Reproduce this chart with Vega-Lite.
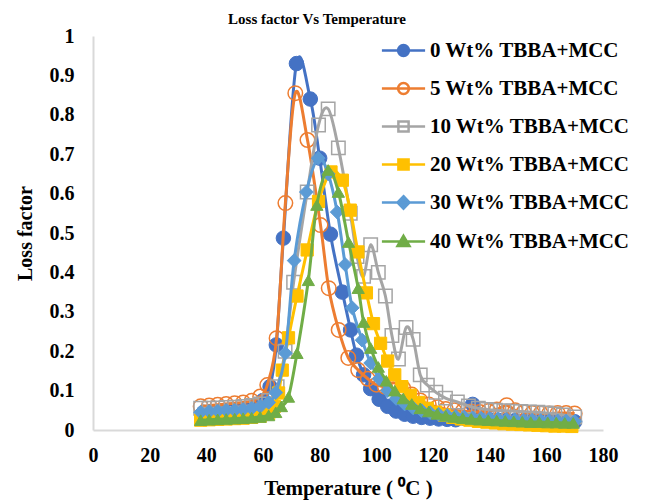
{
"$schema":"https://vega.github.io/schema/vega-lite/v6.json",
"width":510,"height":394,
"autosize":"none",
"padding":{"left":93,"top":36,"right":47,"bottom":72},
"background":"white",
"config":{"view":{"stroke":null},"font":"Liberation Serif"},
"title":{"text":"Loss factor Vs Temperature","font":"Liberation Serif","fontSize":15,"fontWeight":"bold","color":"black","anchor":"middle","dx":-31,"offset":-1},
"data":{"values":[
{"s":"0 Wt% TBBA+MCC","t":39,"v":0.045},{"s":"0 Wt% TBBA+MCC","t":42,"v":0.046},{"s":"0 Wt% TBBA+MCC","t":45,"v":0.048},{"s":"0 Wt% TBBA+MCC","t":48,"v":0.05},{"s":"0 Wt% TBBA+MCC","t":51,"v":0.052},{"s":"0 Wt% TBBA+MCC","t":54,"v":0.055},{"s":"0 Wt% TBBA+MCC","t":57,"v":0.06},{"s":"0 Wt% TBBA+MCC","t":60,"v":0.075},{"s":"0 Wt% TBBA+MCC","t":62.5,"v":0.11},{"s":"0 Wt% TBBA+MCC","t":64.7,"v":0.216},{"s":"0 Wt% TBBA+MCC","t":67.2,"v":0.487},{"s":"0 Wt% TBBA+MCC","t":71.8,"v":0.93},{"s":"0 Wt% TBBA+MCC","t":76.7,"v":0.84},{"s":"0 Wt% TBBA+MCC","t":80,"v":0.69},{"s":"0 Wt% TBBA+MCC","t":83.8,"v":0.497},{"s":"0 Wt% TBBA+MCC","t":88,"v":0.35},{"s":"0 Wt% TBBA+MCC","t":90.9,"v":0.254},{"s":"0 Wt% TBBA+MCC","t":93,"v":0.19},{"s":"0 Wt% TBBA+MCC","t":95.5,"v":0.14},{"s":"0 Wt% TBBA+MCC","t":98,"v":0.105},{"s":"0 Wt% TBBA+MCC","t":101,"v":0.078},{"s":"0 Wt% TBBA+MCC","t":104,"v":0.06},{"s":"0 Wt% TBBA+MCC","t":107,"v":0.048},{"s":"0 Wt% TBBA+MCC","t":110,"v":0.04},{"s":"0 Wt% TBBA+MCC","t":113,"v":0.035},{"s":"0 Wt% TBBA+MCC","t":116,"v":0.032},{"s":"0 Wt% TBBA+MCC","t":119,"v":0.03},{"s":"0 Wt% TBBA+MCC","t":122,"v":0.028},{"s":"0 Wt% TBBA+MCC","t":125,"v":0.027},{"s":"0 Wt% TBBA+MCC","t":128,"v":0.026},{"s":"0 Wt% TBBA+MCC","t":131,"v":0.03},{"s":"0 Wt% TBBA+MCC","t":134,"v":0.065},{"s":"0 Wt% TBBA+MCC","t":137,"v":0.03},{"s":"0 Wt% TBBA+MCC","t":140,"v":0.026},{"s":"0 Wt% TBBA+MCC","t":143,"v":0.025},{"s":"0 Wt% TBBA+MCC","t":146,"v":0.024},{"s":"0 Wt% TBBA+MCC","t":149,"v":0.024},{"s":"0 Wt% TBBA+MCC","t":152,"v":0.023},{"s":"0 Wt% TBBA+MCC","t":155,"v":0.023},{"s":"0 Wt% TBBA+MCC","t":158,"v":0.022},{"s":"0 Wt% TBBA+MCC","t":161,"v":0.022},{"s":"0 Wt% TBBA+MCC","t":164,"v":0.022},{"s":"0 Wt% TBBA+MCC","t":167,"v":0.021},{"s":"0 Wt% TBBA+MCC","t":170,"v":0.021},
{"s":"5 Wt% TBBA+MCC","t":38,"v":0.06},{"s":"5 Wt% TBBA+MCC","t":41,"v":0.062},{"s":"5 Wt% TBBA+MCC","t":44,"v":0.064},{"s":"5 Wt% TBBA+MCC","t":47,"v":0.066},{"s":"5 Wt% TBBA+MCC","t":50,"v":0.068},{"s":"5 Wt% TBBA+MCC","t":53,"v":0.07},{"s":"5 Wt% TBBA+MCC","t":56,"v":0.074},{"s":"5 Wt% TBBA+MCC","t":59,"v":0.085},{"s":"5 Wt% TBBA+MCC","t":61.5,"v":0.114},{"s":"5 Wt% TBBA+MCC","t":64.8,"v":0.233},{"s":"5 Wt% TBBA+MCC","t":67.9,"v":0.576},{"s":"5 Wt% TBBA+MCC","t":71.4,"v":0.855},{"s":"5 Wt% TBBA+MCC","t":75.7,"v":0.736},{"s":"5 Wt% TBBA+MCC","t":80.3,"v":0.52},{"s":"5 Wt% TBBA+MCC","t":83.2,"v":0.36},{"s":"5 Wt% TBBA+MCC","t":86.7,"v":0.254},{"s":"5 Wt% TBBA+MCC","t":90.1,"v":0.183},{"s":"5 Wt% TBBA+MCC","t":93.6,"v":0.152},{"s":"5 Wt% TBBA+MCC","t":97,"v":0.13},{"s":"5 Wt% TBBA+MCC","t":100,"v":0.115},{"s":"5 Wt% TBBA+MCC","t":103,"v":0.11},{"s":"5 Wt% TBBA+MCC","t":106,"v":0.12},{"s":"5 Wt% TBBA+MCC","t":109.5,"v":0.106},{"s":"5 Wt% TBBA+MCC","t":112.5,"v":0.09},{"s":"5 Wt% TBBA+MCC","t":115.5,"v":0.075},{"s":"5 Wt% TBBA+MCC","t":118.5,"v":0.065},{"s":"5 Wt% TBBA+MCC","t":121.5,"v":0.058},{"s":"5 Wt% TBBA+MCC","t":124.5,"v":0.053},{"s":"5 Wt% TBBA+MCC","t":127.5,"v":0.05},{"s":"5 Wt% TBBA+MCC","t":130.5,"v":0.048},{"s":"5 Wt% TBBA+MCC","t":133.5,"v":0.047},{"s":"5 Wt% TBBA+MCC","t":136.5,"v":0.046},{"s":"5 Wt% TBBA+MCC","t":139.5,"v":0.048},{"s":"5 Wt% TBBA+MCC","t":142.5,"v":0.052},{"s":"5 Wt% TBBA+MCC","t":146,"v":0.063},{"s":"5 Wt% TBBA+MCC","t":149,"v":0.05},{"s":"5 Wt% TBBA+MCC","t":152,"v":0.045},{"s":"5 Wt% TBBA+MCC","t":155,"v":0.043},{"s":"5 Wt% TBBA+MCC","t":158,"v":0.042},{"s":"5 Wt% TBBA+MCC","t":161,"v":0.042},{"s":"5 Wt% TBBA+MCC","t":164,"v":0.043},{"s":"5 Wt% TBBA+MCC","t":167,"v":0.043},{"s":"5 Wt% TBBA+MCC","t":170,"v":0.042},
{"s":"10 Wt% TBBA+MCC","t":38,"v":0.055},{"s":"10 Wt% TBBA+MCC","t":41,"v":0.055},{"s":"10 Wt% TBBA+MCC","t":44,"v":0.056},{"s":"10 Wt% TBBA+MCC","t":47,"v":0.057},{"s":"10 Wt% TBBA+MCC","t":50,"v":0.058},{"s":"10 Wt% TBBA+MCC","t":53,"v":0.06},{"s":"10 Wt% TBBA+MCC","t":56,"v":0.062},{"s":"10 Wt% TBBA+MCC","t":59,"v":0.066},{"s":"10 Wt% TBBA+MCC","t":62,"v":0.075},{"s":"10 Wt% TBBA+MCC","t":65,"v":0.11},{"s":"10 Wt% TBBA+MCC","t":67.8,"v":0.2},{"s":"10 Wt% TBBA+MCC","t":70.8,"v":0.375},{"s":"10 Wt% TBBA+MCC","t":75.6,"v":0.604},{"s":"10 Wt% TBBA+MCC","t":79.6,"v":0.774},{"s":"10 Wt% TBBA+MCC","t":83,"v":0.815},{"s":"10 Wt% TBBA+MCC","t":86.6,"v":0.716},{"s":"10 Wt% TBBA+MCC","t":90.8,"v":0.55},{"s":"10 Wt% TBBA+MCC","t":93.2,"v":0.44},{"s":"10 Wt% TBBA+MCC","t":95.5,"v":0.39},{"s":"10 Wt% TBBA+MCC","t":98,"v":0.47},{"s":"10 Wt% TBBA+MCC","t":100.7,"v":0.4},{"s":"10 Wt% TBBA+MCC","t":103.2,"v":0.34},{"s":"10 Wt% TBBA+MCC","t":105.5,"v":0.24},{"s":"10 Wt% TBBA+MCC","t":107.8,"v":0.18},{"s":"10 Wt% TBBA+MCC","t":110.5,"v":0.26},{"s":"10 Wt% TBBA+MCC","t":113,"v":0.23},{"s":"10 Wt% TBBA+MCC","t":115.5,"v":0.14},{"s":"10 Wt% TBBA+MCC","t":118,"v":0.114},{"s":"10 Wt% TBBA+MCC","t":121,"v":0.096},{"s":"10 Wt% TBBA+MCC","t":124.4,"v":0.081},{"s":"10 Wt% TBBA+MCC","t":128.6,"v":0.071},{"s":"10 Wt% TBBA+MCC","t":132.5,"v":0.061},{"s":"10 Wt% TBBA+MCC","t":136,"v":0.055},{"s":"10 Wt% TBBA+MCC","t":139,"v":0.052},{"s":"10 Wt% TBBA+MCC","t":142,"v":0.05},{"s":"10 Wt% TBBA+MCC","t":145,"v":0.049},{"s":"10 Wt% TBBA+MCC","t":148,"v":0.048},{"s":"10 Wt% TBBA+MCC","t":151,"v":0.047},{"s":"10 Wt% TBBA+MCC","t":154,"v":0.046},{"s":"10 Wt% TBBA+MCC","t":157,"v":0.045},{"s":"10 Wt% TBBA+MCC","t":160,"v":0.043},{"s":"10 Wt% TBBA+MCC","t":163,"v":0.041},{"s":"10 Wt% TBBA+MCC","t":166,"v":0.038},{"s":"10 Wt% TBBA+MCC","t":170,"v":0.033},
{"s":"20 Wt% TBBA+MCC","t":38,"v":0.025},{"s":"20 Wt% TBBA+MCC","t":41,"v":0.026},{"s":"20 Wt% TBBA+MCC","t":44,"v":0.027},{"s":"20 Wt% TBBA+MCC","t":47,"v":0.028},{"s":"20 Wt% TBBA+MCC","t":50,"v":0.029},{"s":"20 Wt% TBBA+MCC","t":53,"v":0.03},{"s":"20 Wt% TBBA+MCC","t":56,"v":0.032},{"s":"20 Wt% TBBA+MCC","t":59,"v":0.035},{"s":"20 Wt% TBBA+MCC","t":62,"v":0.042},{"s":"20 Wt% TBBA+MCC","t":64,"v":0.06},{"s":"20 Wt% TBBA+MCC","t":65.5,"v":0.094},{"s":"20 Wt% TBBA+MCC","t":66.8,"v":0.152},{"s":"20 Wt% TBBA+MCC","t":69,"v":0.234},{"s":"20 Wt% TBBA+MCC","t":72,"v":0.34},{"s":"20 Wt% TBBA+MCC","t":75.6,"v":0.457},{"s":"20 Wt% TBBA+MCC","t":79.6,"v":0.58},{"s":"20 Wt% TBBA+MCC","t":84,"v":0.655},{"s":"20 Wt% TBBA+MCC","t":88,"v":0.634},{"s":"20 Wt% TBBA+MCC","t":90.8,"v":0.558},{"s":"20 Wt% TBBA+MCC","t":93.5,"v":0.452},{"s":"20 Wt% TBBA+MCC","t":96.5,"v":0.348},{"s":"20 Wt% TBBA+MCC","t":99,"v":0.27},{"s":"20 Wt% TBBA+MCC","t":101.5,"v":0.22},{"s":"20 Wt% TBBA+MCC","t":104,"v":0.175},{"s":"20 Wt% TBBA+MCC","t":106.5,"v":0.14},{"s":"20 Wt% TBBA+MCC","t":109,"v":0.11},{"s":"20 Wt% TBBA+MCC","t":112,"v":0.088},{"s":"20 Wt% TBBA+MCC","t":115,"v":0.07},{"s":"20 Wt% TBBA+MCC","t":118,"v":0.055},{"s":"20 Wt% TBBA+MCC","t":121,"v":0.045},{"s":"20 Wt% TBBA+MCC","t":124,"v":0.038},{"s":"20 Wt% TBBA+MCC","t":127,"v":0.032},{"s":"20 Wt% TBBA+MCC","t":130,"v":0.028},{"s":"20 Wt% TBBA+MCC","t":133,"v":0.025},{"s":"20 Wt% TBBA+MCC","t":136,"v":0.022},{"s":"20 Wt% TBBA+MCC","t":139,"v":0.02},{"s":"20 Wt% TBBA+MCC","t":142,"v":0.018},{"s":"20 Wt% TBBA+MCC","t":145,"v":0.016},{"s":"20 Wt% TBBA+MCC","t":148,"v":0.015},{"s":"20 Wt% TBBA+MCC","t":151,"v":0.014},{"s":"20 Wt% TBBA+MCC","t":154,"v":0.013},{"s":"20 Wt% TBBA+MCC","t":157,"v":0.012},{"s":"20 Wt% TBBA+MCC","t":160,"v":0.011},{"s":"20 Wt% TBBA+MCC","t":163,"v":0.01},{"s":"20 Wt% TBBA+MCC","t":166,"v":0.01},{"s":"20 Wt% TBBA+MCC","t":169,"v":0.009},
{"s":"30 Wt% TBBA+MCC","t":38,"v":0.045},{"s":"30 Wt% TBBA+MCC","t":41,"v":0.047},{"s":"30 Wt% TBBA+MCC","t":44,"v":0.048},{"s":"30 Wt% TBBA+MCC","t":47,"v":0.05},{"s":"30 Wt% TBBA+MCC","t":50,"v":0.05},{"s":"30 Wt% TBBA+MCC","t":53,"v":0.052},{"s":"30 Wt% TBBA+MCC","t":56,"v":0.055},{"s":"30 Wt% TBBA+MCC","t":59,"v":0.06},{"s":"30 Wt% TBBA+MCC","t":62,"v":0.07},{"s":"30 Wt% TBBA+MCC","t":64.5,"v":0.095},{"s":"30 Wt% TBBA+MCC","t":67.9,"v":0.195},{"s":"30 Wt% TBBA+MCC","t":71,"v":0.43},{"s":"30 Wt% TBBA+MCC","t":75.3,"v":0.604},{"s":"30 Wt% TBBA+MCC","t":79.5,"v":0.69},{"s":"30 Wt% TBBA+MCC","t":83,"v":0.65},{"s":"30 Wt% TBBA+MCC","t":86.2,"v":0.553},{"s":"30 Wt% TBBA+MCC","t":89,"v":0.42},{"s":"30 Wt% TBBA+MCC","t":91.5,"v":0.31},{"s":"30 Wt% TBBA+MCC","t":95,"v":0.228},{"s":"30 Wt% TBBA+MCC","t":98,"v":0.17},{"s":"30 Wt% TBBA+MCC","t":101,"v":0.13},{"s":"30 Wt% TBBA+MCC","t":104,"v":0.1},{"s":"30 Wt% TBBA+MCC","t":107,"v":0.08},{"s":"30 Wt% TBBA+MCC","t":110,"v":0.066},{"s":"30 Wt% TBBA+MCC","t":113,"v":0.056},{"s":"30 Wt% TBBA+MCC","t":116,"v":0.049},{"s":"30 Wt% TBBA+MCC","t":119,"v":0.044},{"s":"30 Wt% TBBA+MCC","t":122,"v":0.04},{"s":"30 Wt% TBBA+MCC","t":125,"v":0.037},{"s":"30 Wt% TBBA+MCC","t":128,"v":0.035},{"s":"30 Wt% TBBA+MCC","t":131,"v":0.033},{"s":"30 Wt% TBBA+MCC","t":134,"v":0.031},{"s":"30 Wt% TBBA+MCC","t":137,"v":0.03},{"s":"30 Wt% TBBA+MCC","t":140,"v":0.029},{"s":"30 Wt% TBBA+MCC","t":143,"v":0.028},{"s":"30 Wt% TBBA+MCC","t":146,"v":0.027},{"s":"30 Wt% TBBA+MCC","t":149,"v":0.026},{"s":"30 Wt% TBBA+MCC","t":152,"v":0.025},{"s":"30 Wt% TBBA+MCC","t":155,"v":0.025},{"s":"30 Wt% TBBA+MCC","t":158,"v":0.024},{"s":"30 Wt% TBBA+MCC","t":161,"v":0.024},{"s":"30 Wt% TBBA+MCC","t":164,"v":0.023},{"s":"30 Wt% TBBA+MCC","t":167,"v":0.023},{"s":"30 Wt% TBBA+MCC","t":170,"v":0.022},
{"s":"40 Wt% TBBA+MCC","t":38,"v":0.025},{"s":"40 Wt% TBBA+MCC","t":41,"v":0.026},{"s":"40 Wt% TBBA+MCC","t":44,"v":0.027},{"s":"40 Wt% TBBA+MCC","t":47,"v":0.028},{"s":"40 Wt% TBBA+MCC","t":50,"v":0.029},{"s":"40 Wt% TBBA+MCC","t":53,"v":0.03},{"s":"40 Wt% TBBA+MCC","t":56,"v":0.031},{"s":"40 Wt% TBBA+MCC","t":59,"v":0.033},{"s":"40 Wt% TBBA+MCC","t":62,"v":0.037},{"s":"40 Wt% TBBA+MCC","t":64.5,"v":0.045},{"s":"40 Wt% TBBA+MCC","t":66.5,"v":0.06},{"s":"40 Wt% TBBA+MCC","t":69,"v":0.084},{"s":"40 Wt% TBBA+MCC","t":72,"v":0.195},{"s":"40 Wt% TBBA+MCC","t":76,"v":0.38},{"s":"40 Wt% TBBA+MCC","t":79,"v":0.571},{"s":"40 Wt% TBBA+MCC","t":83,"v":0.66},{"s":"40 Wt% TBBA+MCC","t":86.6,"v":0.604},{"s":"40 Wt% TBBA+MCC","t":90.2,"v":0.477},{"s":"40 Wt% TBBA+MCC","t":93.6,"v":0.36},{"s":"40 Wt% TBBA+MCC","t":95.5,"v":0.274},{"s":"40 Wt% TBBA+MCC","t":98,"v":0.208},{"s":"40 Wt% TBBA+MCC","t":100.7,"v":0.16},{"s":"40 Wt% TBBA+MCC","t":103.5,"v":0.125},{"s":"40 Wt% TBBA+MCC","t":106.5,"v":0.1},{"s":"40 Wt% TBBA+MCC","t":109.5,"v":0.08},{"s":"40 Wt% TBBA+MCC","t":112.5,"v":0.066},{"s":"40 Wt% TBBA+MCC","t":115.5,"v":0.055},{"s":"40 Wt% TBBA+MCC","t":118.5,"v":0.047},{"s":"40 Wt% TBBA+MCC","t":121.5,"v":0.041},{"s":"40 Wt% TBBA+MCC","t":124.5,"v":0.036},{"s":"40 Wt% TBBA+MCC","t":127.5,"v":0.033},{"s":"40 Wt% TBBA+MCC","t":130.5,"v":0.03},{"s":"40 Wt% TBBA+MCC","t":133.5,"v":0.028},{"s":"40 Wt% TBBA+MCC","t":136.5,"v":0.026},{"s":"40 Wt% TBBA+MCC","t":139.5,"v":0.025},{"s":"40 Wt% TBBA+MCC","t":142.5,"v":0.024},{"s":"40 Wt% TBBA+MCC","t":145.5,"v":0.023},{"s":"40 Wt% TBBA+MCC","t":148.5,"v":0.022},{"s":"40 Wt% TBBA+MCC","t":151.5,"v":0.021},{"s":"40 Wt% TBBA+MCC","t":154.5,"v":0.02},{"s":"40 Wt% TBBA+MCC","t":157.5,"v":0.02},{"s":"40 Wt% TBBA+MCC","t":160.5,"v":0.019},{"s":"40 Wt% TBBA+MCC","t":163.5,"v":0.019},{"s":"40 Wt% TBBA+MCC","t":166.5,"v":0.018},{"s":"40 Wt% TBBA+MCC","t":169.5,"v":0.018}
]},
"encoding":{
"x":{"field":"t","type":"quantitative","scale":{"domain":[0,180],"nice":false,"zero":false},
 "axis":{"title":"Temperature ( ⁰C )","values":[0,20,40,60,80,100,120,140,160,180],"grid":false,"ticks":false,"tickSize":0,"domainColor":"#D9D9D9","domainWidth":2,"labelFont":"Liberation Serif","labelFontSize":20,"labelFontWeight":"bold","labelColor":"black","labelPadding":15,"labelFlush":false,"labelOverlap":false,"titleFont":"Liberation Serif","titleFontSize":21,"titleFontWeight":"bold","titleColor":"black","titlePadding":12}},
"y":{"field":"v","type":"quantitative","scale":{"domain":[0,1],"nice":false},
 "axis":{"title":"Loss factor","values":[0,0.1,0.2,0.3,0.4,0.5,0.6,0.7,0.8,0.9,1],"format":"~g","grid":false,"ticks":false,"tickSize":0,"domainColor":"#D9D9D9","domainWidth":2,"labelFont":"Liberation Serif","labelFontSize":20,"labelFontWeight":"bold","labelColor":"black","labelPadding":19,"labelFlush":false,"labelOverlap":false,"titleFont":"Liberation Serif","titleFontSize":20,"titleFontWeight":"bold","titleColor":"black","titlePadding":14}},
"stroke":{"field":"s","type":"nominal",
 "scale":{"domain":["0 Wt% TBBA+MCC","5 Wt% TBBA+MCC","10 Wt% TBBA+MCC","20 Wt% TBBA+MCC","30 Wt% TBBA+MCC","40 Wt% TBBA+MCC"],"range":["#4472C4","#ED7D31","#A5A5A5","#FFC000","#5B9BD5","#70AD47"]},
 "legend":{"title":null,"orient":"none","legendX":300,"legendY":4,"padding":0,"rowPadding":16,"symbolSize":144,"labelOffset":16,"labelFont":"Liberation Serif","labelFontSize":21,"labelFontWeight":"bold","labelColor":"black","labelLimit":400,
  "encode":{"symbols":{"update":{
   "shape":{"signal":"(datum.value==='0 Wt% TBBA+MCC'||datum.value==='5 Wt% TBBA+MCC')?'M-3.6,0H3.6M0.9,0A0.9,0.9,0,1,1,-0.9,0A0.9,0.9,0,1,1,0.9,0Z':(datum.value==='10 Wt% TBBA+MCC'||datum.value==='20 Wt% TBBA+MCC')?'M-3.6,0H3.6M-0.85,-0.85H0.85V0.85H-0.85Z':datum.value==='30 Wt% TBBA+MCC'?'M-3.6,0H3.6M0,-1.05L1,0L0,1.05L-1,0Z':'M-3.6,0H3.6M0,-0.95L1,0.75L-1,0.75Z'"},
   "fill":{"signal":"datum.value==='0 Wt% TBBA+MCC'?'#4472C4':datum.value==='20 Wt% TBBA+MCC'?'#FFC000':datum.value==='30 Wt% TBBA+MCC'?'#5B9BD5':datum.value==='40 Wt% TBBA+MCC'?'#70AD47':'transparent'"},
   "size":{"value":144},
   "strokeWidth":{"value":2.5},
   "opacity":{"value":1}
  }}}}}
},
"layer":[
{"transform":[{"filter":"datum.s==='0 Wt% TBBA+MCC'"}],"layer":[
 {"mark":{"type":"line","interpolate":"cardinal","strokeWidth":3}},
 {"mark":{"type":"point","shape":"circle","size":210,"filled":true,"fill":"#4472C4","strokeWidth":1,"opacity":1}}]},
{"transform":[{"filter":"datum.s==='5 Wt% TBBA+MCC'"}],"layer":[
 {"mark":{"type":"line","interpolate":"cardinal","strokeWidth":3}},
 {"mark":{"type":"point","shape":"circle","size":210,"filled":false,"strokeWidth":1.5,"opacity":1}}]},
{"transform":[{"filter":"datum.s==='10 Wt% TBBA+MCC'"}],"layer":[
 {"mark":{"type":"line","interpolate":"cardinal","strokeWidth":3}},
 {"mark":{"type":"point","shape":"square","size":180,"filled":false,"strokeWidth":1.5,"opacity":1}}]},
{"transform":[{"filter":"datum.s==='20 Wt% TBBA+MCC'"}],"layer":[
 {"mark":{"type":"line","interpolate":"cardinal","strokeWidth":3}},
 {"mark":{"type":"point","shape":"square","size":150,"filled":true,"fill":"#FFC000","strokeWidth":1,"opacity":1}}]},
{"transform":[{"filter":"datum.s==='30 Wt% TBBA+MCC'"}],"layer":[
 {"mark":{"type":"line","interpolate":"cardinal","strokeWidth":3}},
 {"mark":{"type":"point","shape":"diamond","size":190,"filled":true,"fill":"#5B9BD5","strokeWidth":1,"opacity":1}}]},
{"transform":[{"filter":"datum.s==='40 Wt% TBBA+MCC'"}],"layer":[
 {"mark":{"type":"line","interpolate":"cardinal","strokeWidth":3}},
 {"mark":{"type":"point","shape":"triangle-up","size":150,"filled":true,"fill":"#70AD47","strokeWidth":1,"opacity":1}}]}
]
}
